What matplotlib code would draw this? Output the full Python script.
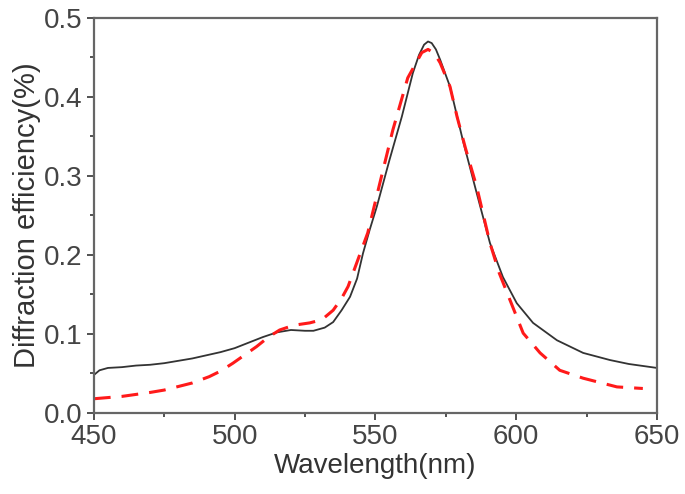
import matplotlib.pyplot as plt
from matplotlib.ticker import MultipleLocator

plt.rcParams['font.family'] = ['Liberation Sans', 'DejaVu Sans']

# measured curve (black)
wl_meas = [450, 452, 455, 460, 465, 470, 475, 480, 485, 490, 495, 500, 505, 510,
           515, 520, 525, 528, 532, 535, 538, 541, 543.5, 545.6, 548, 550.5, 555,
           559.4, 563.3, 565.5, 567.3, 568.7, 570, 571.5, 573, 576.5, 581, 586,
           590.7, 595.3, 600.2, 606, 614.5, 623.8, 633.3, 640, 650]
eff_meas = [0.048, 0.054, 0.057, 0.058, 0.060, 0.061, 0.063, 0.066, 0.069, 0.073,
            0.077, 0.082, 0.089, 0.096, 0.102, 0.105, 0.104, 0.104, 0.108, 0.115,
            0.130, 0.147, 0.170, 0.202, 0.232, 0.261, 0.320, 0.375, 0.430, 0.453,
            0.466, 0.470, 0.468, 0.460, 0.447, 0.413, 0.346, 0.278, 0.215, 0.172,
            0.139, 0.114, 0.092, 0.076, 0.067, 0.062, 0.057]

# simulated curve (red dashed)
wl_sim = [450, 460, 470, 475, 485, 491, 495, 499.4, 503, 507.8, 512, 516, 521,
          526.7, 531, 535, 538, 540.3, 543.8, 547.3, 551.6, 556.2, 561.5, 566.5,
          568.7, 571, 573, 576.5, 579, 582, 586, 590.7, 594, 597.8, 602.5, 608.5,
          615.5, 623.8, 635.8, 645]
eff_sim = [0.018, 0.021, 0.026, 0.029, 0.038, 0.046, 0.053, 0.063, 0.072, 0.084,
           0.096, 0.105, 0.111, 0.114, 0.118, 0.130, 0.145, 0.160, 0.194, 0.228,
           0.291, 0.358, 0.424, 0.456, 0.460, 0.455, 0.443, 0.413, 0.375, 0.335,
           0.286, 0.215, 0.177, 0.143, 0.101, 0.076, 0.054, 0.044, 0.033, 0.031]

fig = plt.figure(figsize=(6.85, 4.94), dpi=100)
ax = fig.add_axes([0.137, 0.164, 0.822, 0.800])

ax.plot(wl_meas, eff_meas, color='#333333', lw=1.3)
ax.plot(wl_sim, eff_sim, color='#ff1a1a', lw=2.2, dashes=(5.5, 3.6))

ax.set_xlim(450, 650)
ax.set_ylim(0, 0.5)
ax.xaxis.set_major_locator(MultipleLocator(50))
ax.xaxis.set_minor_locator(MultipleLocator(25))
ax.yaxis.set_major_locator(MultipleLocator(0.1))
ax.yaxis.set_minor_locator(MultipleLocator(0.05))
ax.yaxis.set_major_formatter(plt.FormatStrFormatter('%.1f'))

for s in ax.spines.values():
    s.set_color('#666666')
    s.set_linewidth(1.6)
ax.tick_params(which='both', direction='out', color='#333333', width=1.2)
ax.tick_params(which='major', length=5, labelsize=20, labelcolor='#444444', pad=3)
ax.tick_params(which='minor', length=3)

ax.set_xlabel('Wavelength(nm)', fontsize=20, color='#333333', labelpad=2)
ax.set_ylabel('Diffraction efficiency(%)', fontsize=21, color='#333333', labelpad=2)

fig.savefig('out.png', dpi=100)
